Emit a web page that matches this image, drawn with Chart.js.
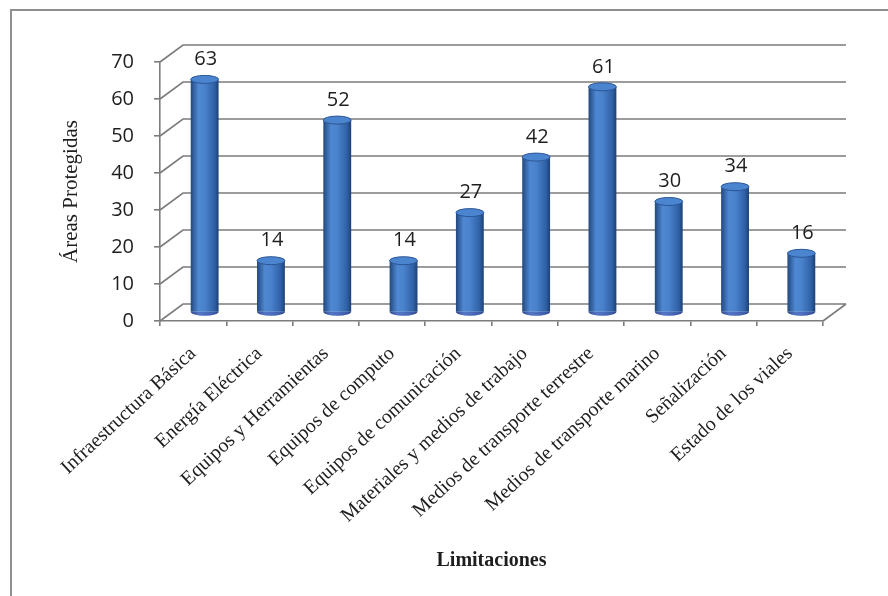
<!DOCTYPE html>
<html lang="es">
<head>
    <meta charset="UTF-8">
    <title>Limitaciones</title>
    <script src="https://cdn.jsdelivr.net/npm/chart.js"></script>
    <style>
        body {
            margin: 0;
            padding: 0;
            background: #ffffff;
        }
        #frame {
            position: relative;
            width: 888px;
            height: 596px;
        }
        #frame::before {
            /* grey frame on the left and top edges */
            content: '';
            position: absolute;
            left: 10px;
            top: 9px;
            right: 0;
            bottom: 0;
            border-left: 2px solid #8f8f8f;
            border-top: 2px solid #8f8f8f;
        }
    </style>
</head>
<body>
    <div id="frame">
        <canvas id="limitChart"></canvas>
    </div>
    <script>
        const categories = [
            'Infraestructura Básica',
            'Energía Eléctrica',
            'Equipos y Herramientas',
            'Equipos de computo',
            'Equipos de comunicación',
            'Materiales y medios de trabajo',
            'Medios de transporte terrestre',
            'Medios de transporte marino',
            'Señalización',
            'Estado de los viales'
        ];
        const areas = [63, 14, 52, 14, 27, 42, 61, 30, 34, 16];
        const yMin = 0;
        const yMax = 70;
        const yStep = 10;

        // depth of the 3D box (back wall offset from the front plane)
        const DEPTH_X = 23;
        const DEPTH_Y = -17;
        const BAR_PCT = 0.42;

        const gridColor = '#7c7c7c';
        const textColor = '#1e1e1e';
        const serif = '"Liberation Serif", "Times New Roman", serif';

        function barGradient(c) {
            const chart = c.chart;
            const xs = chart.scales.x;
            if (!xs || c.dataIndex === undefined) return '#3a70bc';
            const cx = xs.getPixelForValue(c.dataIndex);
            const w = (xs.width / categories.length) * BAR_PCT;
            if (!isFinite(cx) || !isFinite(w) || w <= 0) return '#3a70bc';
            const g = chart.ctx.createLinearGradient(cx - w / 2, 0, cx + w / 2, 0);
            g.addColorStop(0, '#22487f');
            g.addColorStop(0.28, '#4f88d2');
            g.addColorStop(0.5, '#4a82cc');
            g.addColorStop(0.85, '#2f61a6');
            g.addColorStop(1, '#1d4074');
            return g;
        }

        const box3d = {
            id: 'box3d',
            beforeDatasetsDraw(chart) {
                const { ctx, scales: { x, y } } = chart;
                ctx.save();
                ctx.strokeStyle = gridColor;
                ctx.lineWidth = 1.6;
                // side wall diagonals and back wall gridlines
                y.ticks.forEach(t => {
                    const py = y.getPixelForValue(t.value);
                    ctx.beginPath();
                    ctx.moveTo(x.left, py);
                    ctx.lineTo(x.left + DEPTH_X, py + DEPTH_Y);
                    ctx.lineTo(x.right + DEPTH_X, py + DEPTH_Y);
                    ctx.stroke();
                });
                // right edge of the floor
                const p0 = y.getPixelForValue(yMin);
                ctx.beginPath();
                ctx.moveTo(x.right, p0);
                ctx.lineTo(x.right + DEPTH_X, p0 + DEPTH_Y);
                ctx.stroke();
                ctx.restore();

                // bars sit halfway into the box
                ctx.save();
                ctx.translate(DEPTH_X / 2, DEPTH_Y / 2);
            },
            afterDatasetsDraw(chart) {
                const { ctx } = chart;
                const meta = chart.getDatasetMeta(0);
                meta.data.forEach((bar, i) => {
                    const { x, y, base, width } = bar.getProps(['x', 'y', 'base', 'width'], true);
                    const rx = width / 2;
                    const ry = 4;
                    const fill = barGradient({ chart, dataIndex: i });
                    // bottom of the cylinder
                    ctx.beginPath();
                    ctx.ellipse(x, base, rx, ry, 0, 0, Math.PI);
                    ctx.fillStyle = fill;
                    ctx.fill();
                    ctx.beginPath();
                    ctx.ellipse(x, base, rx, ry, 0, 0, Math.PI);
                    ctx.fillStyle = 'rgba(90, 80, 170, 0.35)';
                    ctx.fill();
                    // top of the cylinder
                    ctx.beginPath();
                    ctx.ellipse(x, y, rx, ry, 0, 0, Math.PI * 2);
                    ctx.fillStyle = '#4c85cf';
                    ctx.fill();
                    ctx.lineWidth = 1;
                    ctx.strokeStyle = '#2a5596';
                    ctx.stroke();
                    // value label
                    ctx.fillStyle = textColor;
                    ctx.font = '20px "Open Sans", sans-serif';
                    ctx.textAlign = 'center';
                    ctx.textBaseline = 'middle';
                    ctx.fillText(String(areas[i]), x + 1, y - 20);
                });
                ctx.restore();
            }
        };

        const chartCtx = document.getElementById('limitChart').getContext('2d');
        const limitChart = new Chart(chartCtx, {
            type: 'bar',
            data: {
                labels: categories,
                datasets: [{
                    label: 'Áreas Protegidas',
                    data: areas,
                    backgroundColor: barGradient,
                    borderWidth: 0,
                    barPercentage: BAR_PCT,
                    categoryPercentage: 1
                }]
            },
            options: {
                responsive: true,
                maintainAspectRatio: false,
                animation: false,
                layout: {
                    padding: { left: 55, top: 62, right: 65, bottom: 19 }
                },
                plugins: {
                    legend: { display: false },
                    tooltip: { enabled: false }
                },
                scales: {
                    x: {
                        afterFit: s => { s.height = 596 - 19 - 321; },
                        grid: {
                            drawOnChartArea: false,
                            drawTicks: true,
                            tickLength: 5,
                            color: gridColor,
                            lineWidth: 1.6
                        },
                        border: { display: true, color: gridColor, width: 1.6 },
                        ticks: {
                            autoSkip: false,
                            minRotation: 43,
                            maxRotation: 43,
                            padding: 16,
                            color: textColor,
                            font: { family: serif, size: 20 }
                        },
                        title: {
                            display: true,
                            text: 'Limitaciones',
                            color: textColor,
                            font: { family: serif, size: 20, weight: 'bold' },
                            padding: { top: 4, bottom: 4 }
                        }
                    },
                    y: {
                        min: yMin,
                        max: yMax,
                        afterFit: s => { s.width = 160 - 55; },
                        grid: {
                            drawOnChartArea: false,
                            drawTicks: true,
                            tickLength: 6,
                            color: gridColor,
                            lineWidth: 1.6
                        },
                        border: { display: true, color: gridColor, width: 1.6 },
                        ticks: {
                            stepSize: yStep,
                            padding: 20,
                            color: textColor,
                            font: { family: '"Open Sans", sans-serif', size: 20 }
                        },
                        title: {
                            display: true,
                            text: 'Áreas Protegidas',
                            color: textColor,
                            font: { family: serif, size: 21 },
                            padding: { top: 4, bottom: 4 }
                        }
                    }
                }
            },
            plugins: [box3d]
        });
    </script>
</body>
</html>
